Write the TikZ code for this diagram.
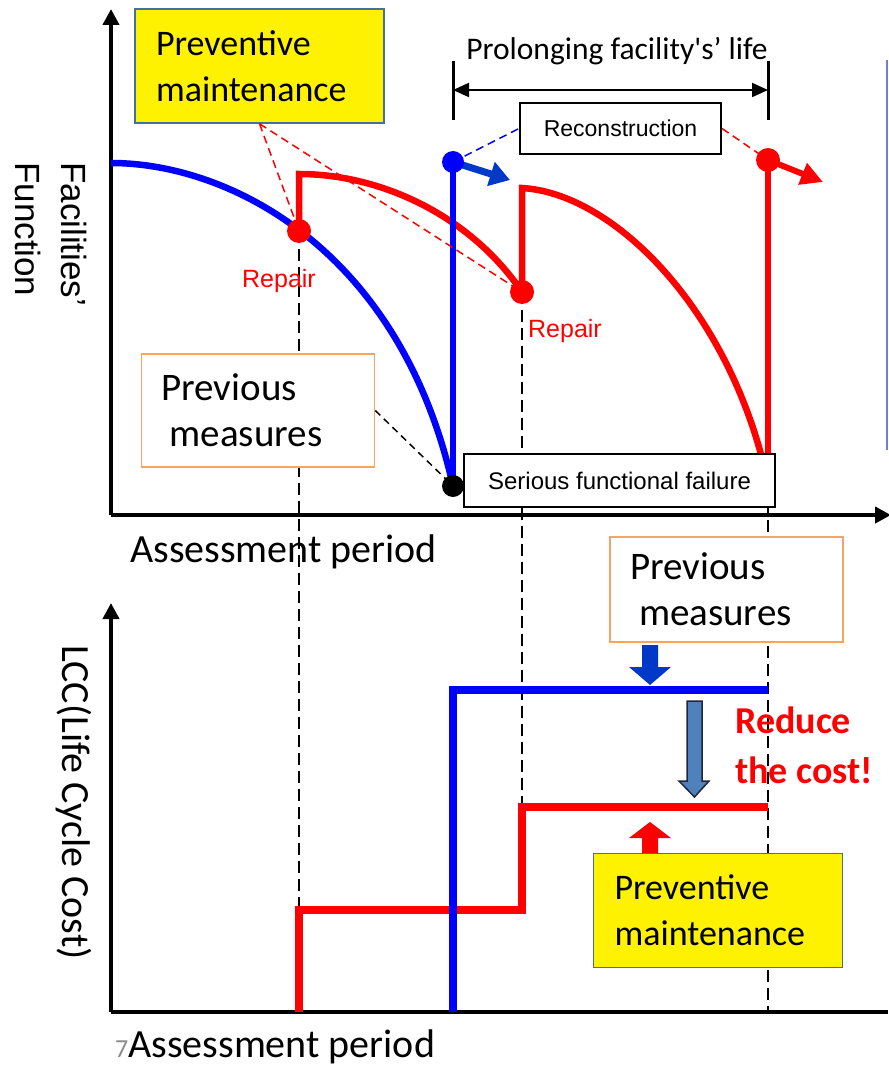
\documentclass[tikz,border=0pt]{standalone}
\usepackage{fontspec}
\setmainfont{Carlito}
\newfontfamily\arialf{Liberation Sans}
\usetikzlibrary{arrows.meta}
\definecolor{pmborder}{RGB}{65,113,156}
\definecolor{orangeb}{RGB}{245,165,95}
\definecolor{arrowblue}{RGB}{0,56,200}
\definecolor{steel}{RGB}{79,129,189}
\definecolor{steeledge}{RGB}{30,40,55}
\definecolor{edgeblue}{RGB}{100,130,215}
\definecolor{pagenum}{RGB}{140,140,140}
\begin{document}
\begin{tikzpicture}[x=1pt,y=-1pt,
  axisline/.style={line width=4pt,-{Triangle[length=16pt,width=16pt]}},
  pmbox/.style={draw=pmborder,fill=yellow,line width=1.5pt,minimum width=249pt,minimum height=114pt,inner xsep=21pt,text width=207pt,align=left,font=\fontsize{36}{46}\selectfont},
  prevbox/.style={draw=orangeb,fill=white,line width=1.5pt,inner xsep=20pt,text width=193pt,align=left,font=\fontsize{39}{46}\selectfont},
  labelbox/.style={draw=black,fill=white,line width=2pt,font=\arialf\fontsize{23}{26}\selectfont},
  dot/.style={circle,inner sep=0pt,minimum size=24pt},
  reptext/.style={text=red,inner sep=0pt,font=\arialf\fontsize{25}{28}\selectfont},
  leader/.style={line width=1.5pt,dash pattern=on 8pt off 5pt},
  vguide/.style={black,line width=1.5pt,dash pattern=on 12pt off 6pt},
  curve/.style={line width=6.5pt},
  cost/.style={line width=8pt},
  dimline/.style={line width=3pt}
]
\useasboundingbox (0,0) rectangle (888,1067);

% key points
\coordinate (r1c) at (299,231);
\coordinate (r2c) at (522,292);
\coordinate (bc) at (453,162);
\coordinate (rc3) at (768,160);
\coordinate (kc) at (453,486);
\coordinate (bt) at (510,180);
\coordinate (rt) at (823,182);
\coordinate (g1) at (299,910);
\coordinate (g2) at (522,807);
\coordinate (g3) at (768,1012);

% dashed vertical guides
\draw[vguide] (r1c) -- (g1);
\draw[vguide] (r2c) -- (g2);
\draw[vguide] (rc3) -- (g3);

% axes
\coordinate (o1) at (111,515);
\coordinate (o2) at (111,1012);
\coordinate (ytop1) at (111,9);
\coordinate (xend1) at (891,515);
\coordinate (ytop2) at (111,603);
\coordinate (xend2) at (888,1012);
\draw[axisline] (o1) -- (ytop1);
\draw[axisline] (o1) -- (xend1);
\draw[axisline] (o2) -- (ytop2);
\draw[line width=4pt] (o2) -- (xend2);

% thin edge line on the right
\coordinate (e1) at (887,60);
\coordinate (e2) at (887,450);
\draw[edgeblue,line width=1.5pt] (e1) -- (e2);

% function curves
\draw[curve,blue] (111,163) .. controls (230,163) and (400,250) .. (kc);
\draw[curve,red] (r1c) -- (299,174) .. controls (380,174) and (470,215) .. (r2c);
\draw[curve,red] (r2c) -- (522,188) .. controls (610,193) and (720,300) .. (762,458);
\draw[curve,red] (768,460) -- (rc3);
\draw[curve,blue] (kc) -- (bc);

% cost steps
\draw[cost,red] (299,1012) -- (g1) -- (522,910) -- (g2) -- (768,807);
\draw[cost,blue] (453,1012) -- (453,690) -- (768,690);

% boxes
\node[pmbox] (pm1) at (259.5,66) {Preventive\\maintenance};
\node[pmbox] (pm2) at (718,910.5) {Preventive\\maintenance};
\node[prevbox,minimum height=113pt] (pv1) at (258,410.5) {Previous\\\hspace*{8pt}measures};
\node[prevbox,minimum height=105pt] (pv2) at (726.5,589.5) {Previous\\\hspace*{9pt}measures};
\node[labelbox,minimum width=201pt,minimum height=51pt] (recon) at (620.5,128.5) {Reconstruction};
\node[labelbox,minimum width=311pt,minimum height=53pt,font=\arialf\fontsize{24}{27}\selectfont] (serious) at (619.5,480.5) {Serious functional failure};

% leaders
\draw[leader,red] (pm1.south) -- (r1c);
\draw[leader,red] (pm1.south) -- (r2c);
\draw[leader,blue] (bc) -- (recon.west);
\draw[leader,red] (recon.east) -- (rc3);
\draw[black,line width=1.5pt,dash pattern=on 7pt off 5pt] (pv1.east) -- (kc);

% reconstruction arrows
\draw[line width=7pt,arrowblue,-{Triangle[length=20pt,width=24pt]}] (bc) -- (bt);
\draw[line width=6pt,red,-{Triangle[length=22pt,width=22pt]}] (rc3) -- (rt);

% dots
\node[dot,fill=red] (r1) at (r1c) {};
\node[dot,fill=red] (r2) at (r2c) {};
\node[dot,fill=blue,minimum size=22pt] (bdot) at (bc) {};
\node[dot,fill=red] (r3) at (rc3) {};
\node[dot,fill=black,minimum size=22pt] (kdot) at (kc) {};

% dimension arrow
\coordinate (dlt) at (453,61);
\coordinate (dlb) at (453,120);
\coordinate (drt) at (768,61);
\coordinate (drb) at (768,120);
\coordinate (dl) at (453,90);
\coordinate (dr) at (768,90);
\draw[dimline] (dlt) -- (dlb);
\draw[dimline] (drt) -- (drb);
\draw[line width=2pt,{Triangle[length=16pt,width=14pt]}-{Triangle[length=16pt,width=14pt]}] (dl) -- (dr);
\node[anchor=base,inner sep=0pt,font=\fontsize{31.5}{36}\selectfont] (prolong) at (617,60) {Prolonging facility\textquotesingle s’ life};

% texts
\node[reptext,anchor=base] (rep1) at (279,287) {Repair};
\node[reptext,anchor=base] (rep2) at (565,337) {Repair};
\node[rotate=-90,anchor=base west,align=left,inner sep=0pt,font=\arialf\fontsize{35}{47}\selectfont] (ylab1) at (15,162) {Facilities’\\Function};
\node[rotate=-90,anchor=base west,inner sep=0pt,font=\fontsize{40}{48}\selectfont] (ylab2) at (62,645) {LCC(Life Cycle Cost)};
\node[anchor=base west,inner sep=0pt,font=\fontsize{40}{46}\selectfont] (xlab1) at (130,562) {Assessment period};
\node[anchor=base west,inner sep=0pt,font=\fontsize{40}{46}\selectfont] (xlab2) at (115,1057) {{\color{pagenum}\fontsize{26}{28}\selectfont 7}Assessment period};
\node[anchor=base west,align=left,inner sep=0pt,text=red,font=\bfseries\fontsize{38}{50}\selectfont] (reduce) at (735,783) {Reduce\\the cost!};

% block arrows in cost chart
\fill[arrowblue] (642,645) -- (658,645) -- (658,667) -- (671,667) -- (650,685) -- (629,667) -- (642,667) -- cycle;
\filldraw[fill=steel,draw=steeledge,line width=1.5pt] (687,701) -- (702,701) -- (702,781) -- (709,781) -- (694.5,797) -- (679,781) -- (687,781) -- cycle;
\fill[red] (642,853) -- (658,853) -- (658,838) -- (671,838) -- (650,822) -- (629,838) -- (642,838) -- cycle;
\end{tikzpicture}
\end{document}
